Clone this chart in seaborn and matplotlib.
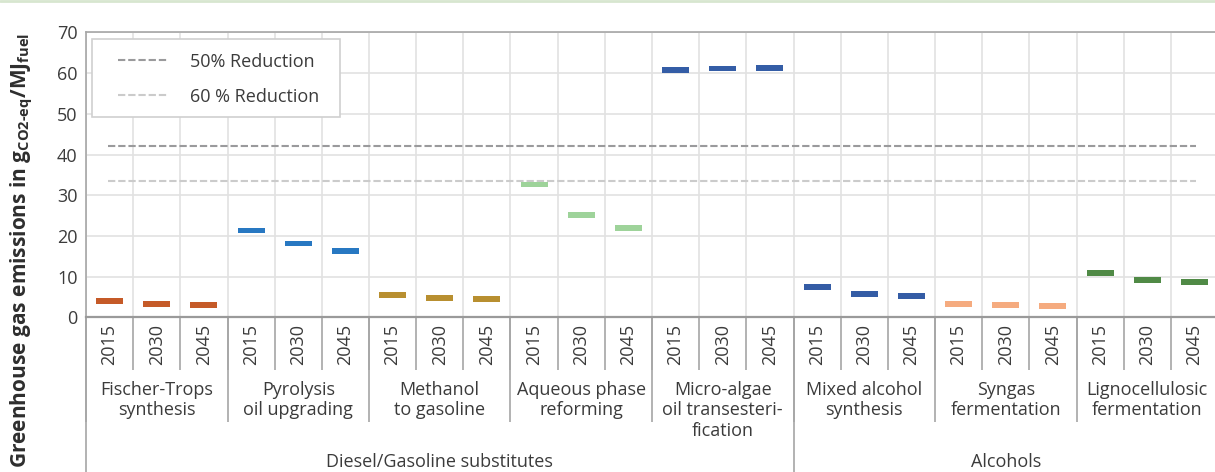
import matplotlib
matplotlib.use("Agg")
import matplotlib.pyplot as plt
from matplotlib.lines import Line2D
from matplotlib.patches import Rectangle
import seaborn as sns
import pandas as pd
import numpy as np

# values (g CO2-eq / MJ fuel)
years = ["2015", "2030", "2045"]
technologies = ["Fischer-Trops\nsynthesis", "Pyrolysis\noil upgrading", "Methanol\nto gasoline",
                "Aqueous phase\nreforming", "Micro-algae\noil transesteri-\nfication",
                "Mixed alcohol\nsynthesis", "Syngas\nfermentation", "Lignocellulosic\nfermentation"]
fischer_tropsch = [4.0, 3.3, 3.1]
pyrolysis = [21.3, 18.1, 16.3]
methanol = [5.5, 4.8, 4.5]
aqueous_phase = [32.6, 25.2, 22.0]
micro_algae = [60.8, 61.1, 61.3]
mixed_alcohol = [7.5, 5.8, 5.3]
syngas = [3.3, 3.1, 2.8]
lignocellulosic = [10.9, 9.2, 8.7]
fuel_groups = ["Diesel/Gasoline substitutes", "Alcohols"]
group_sizes = [5, 3]
reduction_50 = 42.0
reduction_60 = 33.6
colors = ["#c55a28", "#2878c2", "#b88f30", "#9ed39a", "#345da6", "#345ca5", "#f5ab7f", "#508a46"]

series = [fischer_tropsch, pyrolysis, methanol, aqueous_phase, micro_algae,
          mixed_alcohol, syngas, lignocellulosic]
rows = []
for i, (tech, vals) in enumerate(zip(technologies, series)):
    for j, (yr, v) in enumerate(zip(years, vals)):
        rows.append({"tech": tech, "year": yr, "pos": i * 3 + j, "value": v})
df = pd.DataFrame(rows)
n = len(df)

sns.set_style("white")
plt.rcParams["font.family"] = ["Open Sans", "DejaVu Sans"]
plt.rcParams["mathtext.fontset"] = "custom"
plt.rcParams["mathtext.rm"] = "Open Sans:bold"
plt.rcParams["mathtext.bf"] = "Open Sans:bold"
plt.rcParams["mathtext.it"] = "Open Sans:bold"
text_color = "#3b3b3b"
line_grey = "#a6a6a6"

fig = plt.figure(figsize=(12.15, 4.72), dpi=100)
ax = fig.add_axes([86 / 1215, 1 - 317.3 / 472, 1132 / 1215, 284.9 / 472])

# floating bars drawn as wide rectangular markers
bar_marker = [(-2.4, -0.5), (2.4, -0.5), (2.4, 0.5), (-2.4, 0.5)]
sns.scatterplot(data=df, x="pos", y="value", hue="tech", palette=colors,
                marker=bar_marker, s=380, linewidth=0, legend=False, ax=ax, zorder=3)

# reduction threshold lines
ax.plot([-0.03, n - 0.97], [reduction_50, reduction_50], color="#9a9a9c", lw=1.5,
        linestyle=(0, (3.5, 1.4)), label="50% Reduction", zorder=2)
ax.plot([-0.03, n - 0.97], [reduction_60, reduction_60], color="#cbcbcb", lw=1.5,
        linestyle=(0, (3.5, 1.4)), label="60 % Reduction", zorder=2)

ax.set_xlim(-0.5, n - 0.5)
ax.set_ylim(0, 70)
ax.set_yticks(range(0, 71, 10))
ax.set_xticks(range(n))
ax.set_xticklabels(df["year"], rotation=90)
ax.set_xticks(np.arange(-0.5, n, 1), minor=True)
ax.tick_params(axis="x", which="both", length=0, pad=4.5, labelsize=13, labelcolor=text_color)
ax.tick_params(axis="y", length=0, pad=6, labelsize=13, labelcolor=text_color)
ax.grid(False)
ax.grid(axis="y", color="#e2e2e2", lw=1.2)
ax.grid(axis="x", which="minor", color="#e2e2e2", lw=1.2)
ax.set_axisbelow(True)
for side in ["top", "left", "right"]:
    ax.spines[side].set_color(line_grey)
    ax.spines[side].set_linewidth(1.2)
ax.spines["bottom"].set_color("#9a9a9a")
ax.spines["bottom"].set_linewidth(1.6)
ax.set_xlabel("")
ax.set_ylabel("")

# multi-level category axis
tr = ax.get_xaxis_transform()
ax.vlines(np.arange(-0.5, n, 1), -0.185, 0, transform=tr, color=line_grey, lw=1.2, clip_on=False)
ax.vlines(np.arange(-0.5, n, 3), -0.366, 0, transform=tr, color=line_grey, lw=1.2, clip_on=False)
bounds = np.concatenate([[0], np.cumsum(group_sizes) * 3]) - 0.5
ax.vlines(bounds, -0.56, 0, transform=tr, color=line_grey, lw=1.2, clip_on=False)
for i, tech in enumerate(technologies):
    ax.text(i * 3 + 1, -0.222, tech, transform=tr, ha="center", va="top",
            fontsize=13, color=text_color, linespacing=1.2)
for k, grp in enumerate(fuel_groups):
    ax.text((bounds[k] + bounds[k + 1]) / 2, -0.508, grp, transform=tr, ha="center",
            va="center", fontsize=13, color=text_color)

# legend with its own box
ax.add_patch(Rectangle((92 / 1215, 1 - 117 / 472), 248 / 1215, 78 / 472,
                       transform=fig.transFigure, facecolor="white", edgecolor="#d0d0d0",
                       lw=1.2, zorder=4, clip_on=False))
ax.legend(loc="upper left", bbox_to_anchor=(0.0283, 0.9294), borderaxespad=0,
          fontsize=13, frameon=False, handlelength=2.7, handletextpad=1.3,
          labelspacing=0.95, borderpad=0, labelcolor=text_color)

fig.text(22 / 1215, 1 - 250 / 472,
         r"Greenhouse gas emissions in g$_{\rm CO2\text{-}eq}$/MJ$_{\rm fuel}$",
         rotation=90, ha="center", va="center", fontsize=15, fontweight="bold", color="#2e2e2e")

fig.add_artist(Line2D([0, 1], [1 - 1 / 472, 1 - 1 / 472], color="#d7e6cf", lw=2))

fig.savefig("out.png", dpi=100)
